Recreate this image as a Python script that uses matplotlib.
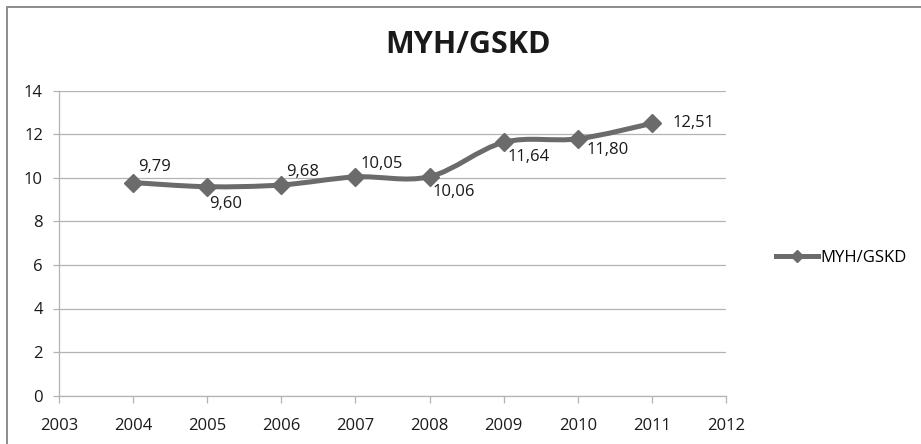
import matplotlib
matplotlib.use("Agg")
import matplotlib.pyplot as plt
import numpy as np
from matplotlib.path import Path
from matplotlib.patches import PathPatch, Rectangle
from matplotlib.lines import Line2D

plt.rcParams['font.family'] = ['Open Sans', 'DejaVu Sans']

years = [2004, 2005, 2006, 2007, 2008, 2009, 2010, 2011]
values = [9.79, 9.60, 9.68, 10.05, 10.06, 11.64, 11.80, 12.51]
labels = ["9,79", "9,60", "9,68", "10,05", "10,06", "11,64", "11,80", "12,51"]
series_name = "MYH/GSKD"

# label placement (pixel offsets from the marker), like the excel chart
label_offsets = [(5, 16), (2, -17), (5, 13), (5, 13), (3, -15), (4, -15), (9, -11), (21, 0)]

LINE_COLOR = "#6b6b6b"
GRID_COLOR = "#b3b3b3"

fig = plt.figure(figsize=(9.21, 4.44), dpi=100)
ax = fig.add_axes([59 / 921, 1 - 395.5 / 444, 667 / 921, 304.5 / 444])

# smoothed line (excel style, catmull-rom bezier through the points)
pts = np.column_stack([years, values]).astype(float)
verts = [tuple(pts[0])]
codes = [Path.MOVETO]
n = len(pts)
for i in range(n - 1):
    p0 = pts[max(i - 1, 0)]
    p1 = pts[i]
    p2 = pts[i + 1]
    p3 = pts[min(i + 2, n - 1)]
    c1 = p1 + (p2 - p0) / 6.0
    c2 = p2 - (p3 - p1) / 6.0
    verts += [tuple(c1), tuple(c2), tuple(p2)]
    codes += [Path.CURVE4] * 3
curve = PathPatch(Path(verts, codes), fill=False, edgecolor=LINE_COLOR, lw=3.6,
                  capstyle="round", joinstyle="round", zorder=3)
ax.add_patch(curve)
ax.plot(years, values, linestyle="none", marker="D", markersize=9.5,
        color=LINE_COLOR, zorder=4)

for x, y, lab, (dx, dy) in zip(years, values, labels, label_offsets):
    ax.annotate(lab, (x, y), xytext=(dx, dy), textcoords="offset pixels",
                ha="left", va="center", fontsize=12, color="#1a1a1a", zorder=5)

ax.set_xlim(2003, 2012)
ax.set_ylim(0, 14)
ax.set_xticks(range(2003, 2013))
ax.set_yticks(range(0, 15, 2))
ax.grid(axis="y", color=GRID_COLOR, lw=0.9)
ax.set_axisbelow(True)
for side in ["top", "right"]:
    ax.spines[side].set_visible(False)
for side in ["left", "bottom"]:
    ax.spines[side].set_color(GRID_COLOR)
    ax.spines[side].set_linewidth(0.9)
ax.tick_params(axis="x", direction="out", length=5, width=0.9, color=GRID_COLOR,
               labelsize=12, pad=11, labelcolor="#1a1a1a")
ax.tick_params(axis="y", direction="out", length=4.5, width=0.9, color=GRID_COLOR,
               labelsize=12, pad=7, labelcolor="#1a1a1a")

fig.text(468 / 921, 1 - 45 / 444, "MYH/GSKD", ha="center", va="center",
         fontsize=22, fontweight="bold", color="#1a1a1a")

handle = Line2D([], [], color=LINE_COLOR, lw=3.6, marker="D", markersize=6)
fig.legend([handle], [series_name], loc="center left",
           bbox_to_anchor=(776 / 921, 1 - 258 / 444), frameon=False,
           borderpad=0, borderaxespad=0, handlelength=2.5, handletextpad=0.15,
           fontsize=12)

# chart border (only top and left edges are inside the picture)
fig.patches.append(Rectangle((7 / 921, -0.1), 1.2, 1 - 7 / 444 + 0.1,
                             transform=fig.transFigure, fill=False,
                             edgecolor="#8c8c8c", lw=1.4))

fig.savefig("out.png", dpi=100)
